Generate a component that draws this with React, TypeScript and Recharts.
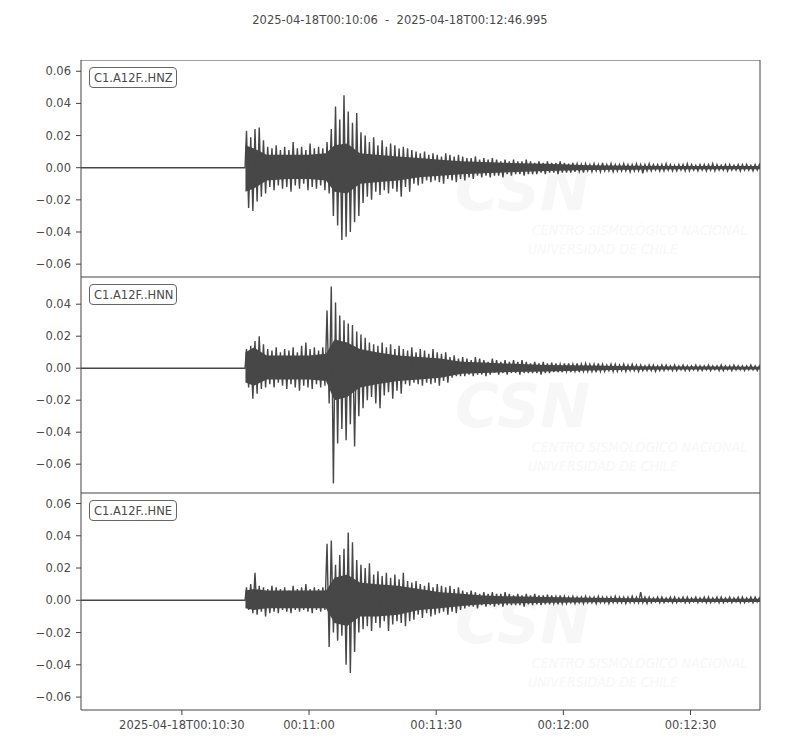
import React from "react";
import { ComposedChart, Line, Area, XAxis, YAxis, ReferenceArea } from "recharts";

const TITLE = "2025-04-18T00:10:06  -  2025-04-18T00:12:46.995";
const CHANNELS = ["C1.A12F..HNZ", "C1.A12F..HNN", "C1.A12F..HNE"];
const X_DOMAIN = [0.2, 160.4];
const X_TICKS = [24, 54, 84, 114, 144];
const X_TICK_LABELS = ["2025-04-18T00:10:30", "00:11:00", "00:11:30", "00:12:00", "00:12:30"];

// seconds after 00:10:06 where the signal starts, and first 1-s envelope bin
const ONSET = 38.9;
const FIRST_BIN = 39;

// peak envelope (max / min per second), units of 1e-3
const HNZ_HI = [
  23, 19, 24, 25, 17, 13, 12, 14, 11, 13,
  11, 16, 12, 13, 11, 15, 12, 13, 12, 16,
  24, 38, 30, 45, 35, 28, 34, 22, 20, 16,
  19, 14, 17, 13, 15, 14, 12, 13, 12, 11,
  10, 9, 10, 8, 9, 8, 7, 9, 8, 7,
  8, 7, 6, 6, 7, 5, 6, 5, 6, 5,
  4, 5, 4, 5, 4, 4, 5, 4, 3, 4,
  3, 4, 3, 3, 4, 3, 2.5, 3, 2.5, 2,
  2.5, 2, 2.5, 2, 3, 2, 2.5, 2, 2, 2.5,
  2, 2, 2.5, 2, 2, 2.5, 2, 2, 2, 2.5,
  2, 1.5, 2, 2, 2.5, 2, 1.5, 2, 2, 2,
  2.5, 2, 1.5, 2, 2, 1.5, 2, 2, 2, 1.5,
  2, 2,
];
const HNZ_LO = [
  -25, -27, -21, -18, -16, -12, -14, -11, -13, -12,
  -15, -11, -13, -10, -14, -12, -13, -11, -14, -16,
  -30, -36, -45, -43, -40, -34, -30, -22, -18, -20,
  -15, -17, -14, -16, -13, -15, -18, -12, -15, -10,
  -11, -10, -8, -9, -8, -9, -10, -7, -8, -9,
  -7, -8, -6, -7, -5, -6, -5, -6, -5, -5,
  -6, -4, -5, -4, -4, -5, -4, -4, -4, -3,
  -4, -3, -3, -4, -3, -3, -3, -2.5, -2.5, -3,
  -2, -2.5, -2, -2.5, -2, -2, -2.5, -2, -2, -2,
  -2.5, -2, -2, -3.5, -2, -2, -1.5, -2, -2, -1.5,
  -2, -2, -1.5, -2, -2, -1.5, -2, -1.5, -2, -1.5,
  -2, -1.5, -1.5, -2, -1.5, -1.5, -2, -1.5, -1.5, -2,
  -1.5, -1.5,
];

const HNN_HI = [
  12, 14, 17, 20, 15, 12, 11, 13, 10, 12,
  11, 13, 10, 14, 16, 12, 13, 11, 13, 36,
  51, 41, 33, 30, 28, 27, 23, 21, 19, 16,
  15, 14, 16, 13, 15, 12, 14, 12, 11, 13,
  10, 12, 11, 9, 12, 10, 9, 10, 7, 8,
  6, 7, 6, 5, 7, 6, 5, 4, 6, 5,
  4, 5, 4, 5, 4, 5, 4, 3, 4, 3,
  4, 3, 3.5, 3, 2.5, 3, 3, 2.5, 3, 2.5,
  3, 2.5, 2.5, 3, 2.5, 2, 2.5, 2.5, 2, 2.5,
  2, 2.5, 2, 2, 1.5, 2, 2, 1.5, 2, 2,
  1.5, 2, 1.5, 2, 1.5, 1.5, 2, 1.5, 1.5, 2,
  1.5, 1.5, 2, 1.5, 1.5, 2, 1.5, 1.5, 1.5, 2,
  1.5, 1.5,
];
const HNN_LO = [
  -12, -19, -16, -13, -12, -10, -12, -9, -11, -13,
  -10, -12, -14, -11, -12, -13, -10, -12, -11, -22,
  -72, -47, -38, -45, -35, -49, -30, -25, -20, -18,
  -22, -25, -17, -15, -19, -14, -16, -10, -11, -9,
  -10, -11, -9, -10, -9, -11, -8, -9, -6, -5,
  -5, -5, -4, -5, -4, -4, -5, -4, -3, -4,
  -3, -4, -3, -3, -4, -3, -3, -3, -3, -4,
  -3, -3, -2.5, -2.5, -2.5, -2, -2.5, -2, -2.5, -2,
  -2, -2, -2.5, -2, -2, -1.5, -2, -2, -1.5, -2,
  -1.5, -1.5, -2, -1.5, -1.5, -1.5, -2, -1.5, -1.5, -1,
  -1.5, -1.5, -1, -1.5, -1.5, -1, -1.5, -1.5, -1, -1.5,
  -1, -1.5, -1.5, -1, -1.5, -1, -1, -1.5, -1, -1,
  -1.5, -1,
];

const HNE_HI = [
  8, 10, 17, 9, 8, 7, 9, 8, 7, 8,
  6, 9, 7, 8, 10, 7, 8, 7, 8, 35,
  37, 22, 28, 32, 42, 36, 25, 22, 20, 23,
  16, 18, 15, 17, 14, 16, 13, 17, 12, 11,
  12, 10, 9, 11, 8, 10, 9, 8, 9, 7,
  8, 6, 5, 6, 5, 4, 5, 4, 5, 4,
  4, 5, 4, 3, 4, 3, 4, 3, 4, 3,
  3, 3.5, 3, 2.5, 3, 2.5, 2, 2.5, 2, 2,
  2.5, 2, 2, 2.5, 2, 2, 2, 2.5, 2, 2,
  2, 2.5, 2, 5, 2, 2, 1.5, 2, 2, 1.5,
  2, 2, 1.5, 2, 2, 1.5, 2, 1.5, 2, 2,
  1.5, 2, 2, 1.5, 2, 1.5, 2, 2, 1.5, 2,
  2, 1.5,
];
const HNE_LO = [
  -6, -8, -9, -7, -10, -8, -7, -8, -6, -7,
  -8, -6, -7, -6, -7, -8, -6, -7, -6, -29,
  -20, -25, -22, -40, -45, -32, -20, -18, -16, -19,
  -14, -17, -13, -19, -15, -13, -14, -16, -13, -12,
  -9, -11, -8, -10, -9, -8, -7, -9, -7, -8,
  -6, -5, -4, -4, -5, -3, -4, -3, -4, -3,
  -4, -3, -3, -3, -3, -4, -2.5, -3, -2.5, -3,
  -2.5, -2.5, -2, -2.5, -2, -2, -1.5, -2, -1.5, -2,
  -1.5, -1.5, -2, -1.5, -1.5, -2, -1.5, -1.5, -1.5, -2,
  -1.5, -1.5, -1.5, -1.5, -2, -1.5, -1, -1.5, -1.5, -1,
  -1.5, -1.5, -1, -1.5, -1.5, -1, -1.5, -1, -1.5, -1.5,
  -1, -1.5, -1.5, -1, -1.5, -1, -1.5, -1.5, -1, -1.5,
  -1, -1.5,
];

// dense core band of the trace (read at coarser times), units of 1e-3
const CORE_T = [39, 41, 44, 49, 54, 58, 60, 63, 66, 70, 75, 80, 85, 90, 95, 100, 110, 120, 130, 140, 150, 160.4];
const HNZ_CORE_HI = [14, 12, 8, 8, 8, 9, 14, 15, 9, 8, 7, 6, 5, 4, 3.5, 3, 2.5, 1.5, 1.2, 1, 1, 1];
const HNZ_CORE_LO = [-15, -13, -8, -7, -7, -8, -15, -16, -10, -9, -8, -6, -5, -4, -3.5, -3, -2, -1.5, -1.2, -1, -1, -1];
const HNN_CORE_HI = [10, 13, 8, 8, 8, 9, 18, 16, 12, 10, 8, 7, 6, 4, 3.5, 3, 2, 1.7, 1.2, 1, 1, 0.9];
const HNN_CORE_LO = [-9, -11, -7, -7, -7, -8, -20, -18, -12, -10, -8, -7, -6, -3.5, -3, -2.5, -2, -1.5, -1, -0.8, -0.8, -0.8];
const HNE_CORE_HI = [6, 7, 6, 6, 6, 6, 14, 16, 11, 10, 9, 7, 5, 4, 3, 2.5, 2, 1.5, 1.2, 1, 1, 1];
const HNE_CORE_LO = [-5, -6, -5, -5, -5, -5, -14, -16, -10, -10, -9, -6, -5, -3.5, -2.5, -2, -1.5, -1.2, -1, -1, -1, -1];

const Y_TICKS_Z = [-0.06, -0.04, -0.02, 0, 0.02, 0.04, 0.06];
const Y_TICKS_N = [-0.06, -0.04, -0.02, 0, 0.02, 0.04];
const Y_TICKS_E = [-0.06, -0.04, -0.02, 0, 0.02, 0.04, 0.06];
const Y_DOMAIN_Z = [-0.068, 0.067];
const Y_DOMAIN_N = [-0.078, 0.057];
const Y_DOMAIN_E = [-0.068, 0.0665];

const FONT = "'DejaVu Sans', sans-serif";
const TEXT_COLOR = "#4a4a4a";
const LINE_COLOR = "#474747";

type Pt = { t: number; v: number };
type CorePt = { t: number; band: [number, number] };

function buildTrace(hi: number[], lo: number[]) {
  const pts: Pt[] = [
    { t: 0, v: 0 },
    { t: ONSET, v: 0 },
  ];
  hi.forEach((h, i) => {
    pts.push({ t: FIRST_BIN + i + 0.25, v: h / 1000 });
    pts.push({ t: FIRST_BIN + i + 0.75, v: lo[i] / 1000 });
  });
  return pts;
}

function buildCore(hi: number[], lo: number[]) {
  return CORE_T.map((t, i) => ({ t, band: [lo[i] / 1000, hi[i] / 1000] as [number, number] }));
}

const fmtY = (v: number) => {
  const s = Math.abs(v).toFixed(2);
  return v < -1e-9 ? "\u2212" + s : s;
};
const fmtX = (t: number) => {
  const i = X_TICKS.indexOf(t);
  return i >= 0 ? X_TICK_LABELS[i] : "";
};

const PANEL_TOPS = [60, 277, 493];
const PANEL_H = [217, 216, 217];

function Panel(props: {
  data: Pt[];
  core: CorePt[];
  domain: number[];
  ticks: number[];
  top: number;
  plotH: number;
  showX: boolean;
}) {
  const { data, core, domain, ticks, top, plotH, showX } = props;
  const xh = showX ? 40 : 0;
  return (
    <div style={{ position: "absolute", left: 0, top, width: 800, height: plotH + xh }}>
      <ComposedChart
        width={800}
        height={plotH + xh}
        data={data}
        margin={{ top: 0, right: 40, bottom: 0, left: 0 }}
      >
        <XAxis
          dataKey="t"
          type="number"
          domain={X_DOMAIN}
          allowDataOverflow
          ticks={X_TICKS}
          tickFormatter={fmtX}
          hide={!showX}
          height={xh || 1}
          axisLine={false}
          tickLine={{ stroke: "#444", strokeWidth: 1 }}
          tickSize={5}
          tickMargin={6}
          interval={0}
          tick={{ fill: TEXT_COLOR, fontSize: 11.5, fontFamily: FONT }}
        />
        <YAxis
          type="number"
          domain={domain}
          allowDataOverflow
          ticks={ticks}
          tickFormatter={fmtY}
          width={81}
          axisLine={false}
          tickLine={{ stroke: "#444", strokeWidth: 1 }}
          tickSize={5}
          tickMargin={5}
          interval={0}
          tick={{ fill: TEXT_COLOR, fontSize: 11.5, fontFamily: FONT }}
        />
        <Area
          data={core}
          dataKey="band"
          type="linear"
          stroke="none"
          fill={LINE_COLOR}
          fillOpacity={1}
          dot={false}
          activeDot={false}
          isAnimationActive={false}
        />
        <Line
          dataKey="v"
          type="linear"
          stroke={LINE_COLOR}
          strokeWidth={1.4}
          strokeLinejoin="miter"
          dot={false}
          activeDot={false}
          isAnimationActive={false}
        />
        <ReferenceArea
          x1={X_DOMAIN[0]}
          x2={X_DOMAIN[1]}
          y1={domain[0]}
          y2={domain[1]}
          fill="none"
          fillOpacity={0}
          stroke="#444"
          strokeWidth={1}
          ifOverflow="visible"
        />
      </ComposedChart>
    </div>
  );
}

function Background() {
  const wm = "#f7f7f7";
  const cond = "'DejaVu Sans Condensed', 'DejaVu Sans', sans-serif";
  return (
    <svg width={800} height={750} style={{ position: "absolute", left: 0, top: 0 }}>
      <text x={400} y={24} textAnchor="middle" fontFamily={FONT} fontSize={11.5} fill={TEXT_COLOR} xmlSpace="preserve">
        {TITLE}
      </text>
      {PANEL_TOPS.map((top, i) => (
        <g key={i}>
          <text x={455} y={top + 150} fontFamily={FONT} fontWeight="bold" fontStyle="italic" fontSize={60} fill={wm}>
            CSN
          </text>
          <text x={532} y={top + 175} fontFamily={cond} fontStyle="italic" fontSize={14} fill={wm}>
            CENTRO SISMOLÓGICO NACIONAL
          </text>
          <text x={528} y={top + 194} fontFamily={cond} fontStyle="italic" fontSize={14} fill={wm}>
            UNIVERSIDAD DE CHILE
          </text>
          <rect x={89.5} y={top + 7.5} width={87} height={20} rx={3.5} fill="#fff" stroke="#666" strokeWidth={1} />
          <text x={94} y={top + 22} fontFamily={FONT} fontSize={11.5} fill={TEXT_COLOR}>
            {CHANNELS[i]}
          </text>
        </g>
      ))}
    </svg>
  );
}

export default function App() {
  const traces = [
    buildTrace(HNZ_HI, HNZ_LO),
    buildTrace(HNN_HI, HNN_LO),
    buildTrace(HNE_HI, HNE_LO),
  ];
  const cores = [
    buildCore(HNZ_CORE_HI, HNZ_CORE_LO),
    buildCore(HNN_CORE_HI, HNN_CORE_LO),
    buildCore(HNE_CORE_HI, HNE_CORE_LO),
  ];
  const domains = [Y_DOMAIN_Z, Y_DOMAIN_N, Y_DOMAIN_E];
  const ticks = [Y_TICKS_Z, Y_TICKS_N, Y_TICKS_E];
  return (
    <div style={{ position: "absolute", left: 0, top: 0, width: 800, height: 750, background: "#fff" }}>
      <Background />
      {traces.map((d, i) => (
        <Panel
          key={i}
          data={d}
          core={cores[i]}
          domain={domains[i]}
          ticks={ticks[i]}
          top={PANEL_TOPS[i]}
          plotH={PANEL_H[i]}
          showX={i === 2}
        />
      ))}
    </div>
  );
}
